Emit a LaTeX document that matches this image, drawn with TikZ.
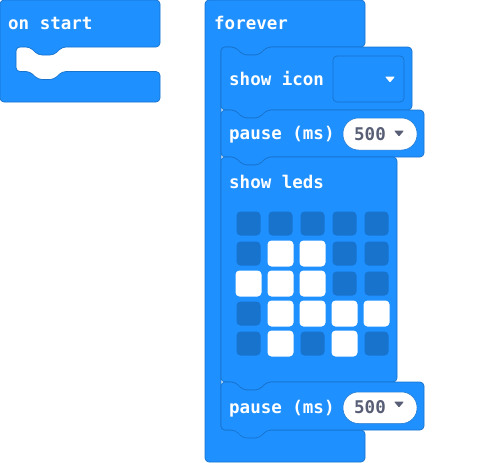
\documentclass[tikz,border=0pt]{standalone}
\usepackage{fontspec}
\newfontfamily\blockfam{DejaVu Sans Mono}
\newcommand\blockfont{\blockfam\bfseries\fontsize{17.5pt}{20pt}\selectfont}
\definecolor{blk}{HTML}{1E90FF}
\definecolor{blkdark}{HTML}{1873CC}
\definecolor{ledoff}{HTML}{1873CC}
\definecolor{txtgrey}{HTML}{575E75}
\tikzset{
  block/.style={fill=blk, draw=blkdark, line width=0.7pt, rounded corners=4pt, line join=round},
  lbl/.style={anchor=base west, text=white, inner sep=0pt, font=\blockfont},
  num/.style={anchor=base west, text=txtgrey, inner sep=0pt, font=\blockfont},
  ledon/.style={fill=white, rounded corners=4pt},
  ledoffs/.style={fill=ledoff, rounded corners=4pt},
  pill/.style={fill=white, draw=blkdark, line width=0.5pt, rounded corners=15.5pt},
  field/.style={fill=blk, draw=blkdark, line width=0.7pt, rounded corners=4pt},
}
\begin{document}
\begin{tikzpicture}[x=1pt,y=-1pt]
\useasboundingbox (0,0) rectangle (477,463);
% on start
\path[block] (0,0) -- (160,0) -- (160,47) -- (62,47) -- (54,55) -- (38,55) -- (30,47) -- (16,47)
  -- (16,71.5) -- (30,71.5) -- (38,79.5) -- (54,79.5) -- (62,71.5) -- (160,71.5) -- (160,102) -- (0,102) -- cycle;
\node[lbl] (onstart) at (8,30) {on start};
% forever
\path[block] (205,0) -- (365,0) -- (365,47) -- (267,47) -- (259,55) -- (243,55) -- (235,47) -- (221,47)
  -- (221,430) -- (365,430) -- (365,462) -- (205,462) -- cycle;
\node[lbl] (forever) at (214,29.5) {forever};
% show icon
\path[block] (221,47) -- (235,47) -- (243,55) -- (259,55) -- (267,47) -- (412,47) -- (412,110)
  -- (267,110) -- (259,118) -- (243,118) -- (235,110) -- (221,110) -- cycle;
\node[lbl] (showicon) at (229,85) {show icon};
\path[field] (333,56) rectangle (404,102);
\fill[white, rounded corners=0.8pt] (385,76.5) -- (395,76.5) -- (390,82.5) -- cycle;
% pause 1
\path[block] (221,110) -- (235,110) -- (243,118) -- (259,118) -- (267,110) -- (424,110) -- (424,157)
  -- (267,157) -- (259,165) -- (243,165) -- (235,157) -- (221,157) -- cycle;
\node[lbl] (pauseA) at (229,139) {pause (ms)};
\path[pill] (343,118) rectangle (417,150);
\node[num] (numA) at (354,140) {500};
\fill[txtgrey, rounded corners=0.8pt] (394,130.5) -- (404,130.5) -- (399,136.5) -- cycle;
% show leds
\path[block] (221,157) -- (235,157) -- (243,165) -- (259,165) -- (267,157) -- (397,157) -- (397,382)
  -- (267,382) -- (259,390) -- (243,390) -- (235,382) -- (221,382) -- cycle;
\node[lbl] (showleds) at (229,188) {show leds};
\foreach \i in {0,...,4}{
  \foreach \j in {0,...,4}{
    \fill[ledoffs] ({248.5+32*\i-12},{223.5+30*\j-12}) rectangle ++(24,24);
  }
}
\foreach \i/\j in {1/1,2/1,0/2,1/2,2/2,1/3,2/3,3/3,4/3,1/4,3/4}{
  \fill[ledon] ({248.5+32*\i-13},{223.5+30*\j-13}) rectangle ++(26,26);
}
% pause 2
\path[block] (221,382) -- (235,382) -- (243,390) -- (259,390) -- (267,382) -- (424,382) -- (424,430)
  -- (267,430) -- (259,438) -- (243,438) -- (235,430) -- (221,430) -- cycle;
\node[lbl] (pauseB) at (229,413) {pause (ms)};
\path[pill] (343,392) rectangle (417,423.5);
\node[num] (numB) at (354,413.5) {500};
\fill[txtgrey, rounded corners=0.8pt] (394,401.5) -- (404,401.5) -- (399,407.5) -- cycle;
\end{tikzpicture}
\end{document}
